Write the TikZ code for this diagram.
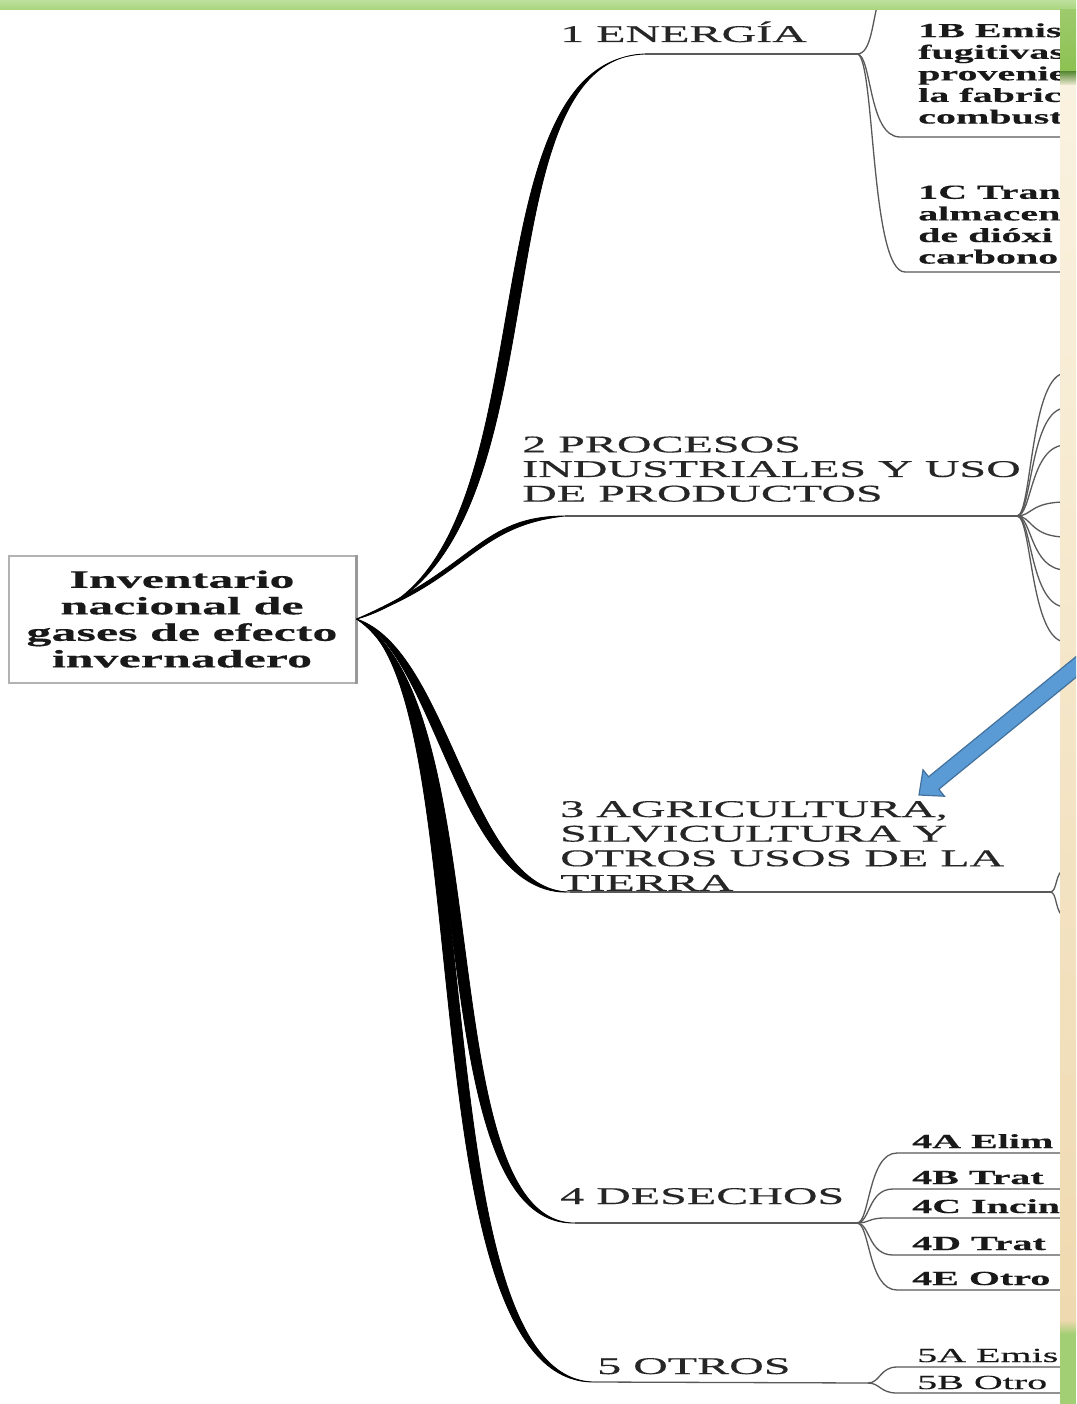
\documentclass[tikz,border=0pt]{standalone}
\usepackage{fontspec}
\setmainfont{Liberation Serif}
\newfontfamily\widefont[FakeStretch=2,FakeBold=0.4]{Liberation Serif}

\definecolor{barGreen}{HTML}{A8D57C}
\definecolor{panelGreen}{HTML}{8CC152}
\definecolor{panelDark}{HTML}{5E8C3A}
\definecolor{creamTop}{HTML}{FAF2E0}
\definecolor{creamLow}{HTML}{EFD9B0}
\definecolor{bottomGreen}{HTML}{A3CF74}
\definecolor{arrowBlue}{HTML}{5B9BD5}
\definecolor{arrowEdge}{HTML}{41719C}

\begin{document}
\begin{tikzpicture}[x=1pt,y=-1pt,
    rootbox/.style={draw=black!30,line width=2pt,fill=white,minimum width=347pt,minimum height=127pt,
        align=center,inner sep=0pt,text=black!90,font=\widefont\bfseries\fontsize{25}{26.5}\selectfont},
    branch/.style={inner sep=0pt,align=left,text=black!85,font=\widefont\fontsize{24}{24.6}\selectfont},
    leaf/.style={inner sep=0pt,align=left,text=black!90,font=\widefont\bfseries\fontsize{20}{21.6}\selectfont},
    trunk/.style={fill=black,draw=black,line width=.8pt},
    twig/.style={draw=black!65,line width=1.3pt}]
    \clip (0,0) rectangle (1076,1404);
    \fill[white] (0,0) rectangle (1076,1404);

    \node[rootbox] (root) at (182,619) {Inventario\\nacional de\\gases de efecto\\invernadero};
    \draw[black!40,line width=2.5pt] (root.north east) -- (root.south east);

    \node[branch,anchor=base west] (energia) at (560,42) {1 ENERGÍA};
    \node[branch,anchor=south west] (procesos) at (522,502) {2 PROCESOS\\INDUSTRIALES Y USO\\DE PRODUCTOS};
    \node[branch,anchor=south west] (agricultura) at (560,891) {3 AGRICULTURA,\\SILVICULTURA Y\\OTROS USOS DE LA\\TIERRA};
    \node[branch,anchor=base west] (desechos) at (560,1204) {4 DESECHOS};
    \node[branch,anchor=base west] (otros) at (597,1374) {5 OTROS};

    \coordinate (e1) at (645,54);   \coordinate (j1) at (857,54);
    \coordinate (e2) at (565,516);  \coordinate (j2) at (1017,516);
    \coordinate (e3) at (570,892);  \coordinate (j3) at (1050,892);
    \coordinate (e4) at (575,1223); \coordinate (j4) at (857,1223);
    \coordinate (e5) at (595,1382); \coordinate (j5) at (868,1383);

    \filldraw[trunk] (root.east) .. controls (575,560) and (470,58) .. (e1) .. controls (456,62) and (558,567) .. (root.east);
    \filldraw[trunk] (root.east) .. controls (475,568) and (480,516) .. (e2) .. controls (474,526) and (468,580) .. (root.east);
    \filldraw[trunk] (root.east) .. controls (450,650) and (470,892) .. (e3) .. controls (458,898) and (436,653) .. (root.east);
    \filldraw[trunk] (root.east) .. controls (500,700) and (430,1223) .. (e4) .. controls (416,1227) and (486,704) .. (root.east);
    \filldraw[trunk] (root.east) .. controls (495,680) and (418,1382) .. (e5) .. controls (404,1386) and (481,684) .. (root.east);

    \draw[twig] (e1) -- (j1);
    \draw[twig] (e2) -- (j2);
    \draw[twig] (e3) -- (j3);
    \draw[twig] (e4) -- (j4);
    \draw[twig] (e5) -- (j5);

    \draw[twig] (j1) .. controls (872,54) and (872,20) .. (880,-5);
    \draw[twig] (j1) .. controls (872,54) and (868,137) .. (900,137) -- (1066,137);
    \draw[twig] (j1) .. controls (875,54) and (870,272) .. (905,272) -- (1066,272);
    \foreach \y in {373,408,445,502,537,570,607,642}
        \draw[twig] (j2) .. controls (1032,516) and (1030,\y) .. (1066,\y);
    \draw[twig] (j3) .. controls (1058,892) and (1054,872) .. (1066,868);
    \draw[twig] (j3) .. controls (1058,892) and (1054,914) .. (1066,918);
    \foreach \y/\x in {1153/897,1189/893,1218/885,1255/893,1290/897}
        \draw[twig] (j4) .. controls (870,1223) and (868,\y) .. (\x,\y) -- (1066,\y);
    \foreach \y in {1367,1393}
        \draw[twig] (j5) .. controls (880,1383) and (880,\y) .. (897,\y) -- (1066,\y);

    \node[leaf,anchor=south west] (l1b) at (918,124) {1B Emis\\fugitivas\\provenie\\la fabric\\combust};
    \node[leaf,anchor=south west] (l1c) at (918,264) {1C Tran\\almacen\\de dióxi\\carbono};
    \foreach \n/\y/\t in {a/1148/4A Elim,b/1184/4B Trat,c/1213/4C Incin,d/1250/4D Trat,e/1285/4E Otro}
        \node[leaf,anchor=base west] (l4\n) at (912,\y) {\t};
    \foreach \n/\y/\t in {a/1362/5A Emis,b/1389/5B Otro}
        \node[leaf,anchor=base west,font=\widefont\fontsize{20}{21.6}\selectfont] (l5\n) at (917,\y) {\t};

    \shade[top color=barGreen!75!white,bottom color=barGreen] (0,0) rectangle (1076,10);
    \shade[top color=panelGreen!85!white,bottom color=panelGreen] (1060,10) rectangle (1076,72);
    \shade[top color=panelDark,bottom color=creamTop] (1060,72) rectangle (1076,86);
    \shade[top color=creamTop,bottom color=creamLow] (1060,86) rectangle (1076,1320);
    \shade[top color=creamLow,bottom color=bottomGreen] (1060,1320) rectangle (1076,1334);
    \fill[bottomGreen] (1060,1334) rectangle (1076,1404);

    \filldraw[fill=arrowBlue,draw=arrowEdge,line width=1.2pt] (919,795) -- (944.4,796.2) -- (938.8,789.2)
        -- (1094.6,662.2) -- (1084.4,649.8) -- (928.6,776.8) -- (923,769.8) -- cycle;
\end{tikzpicture}
\end{document}
